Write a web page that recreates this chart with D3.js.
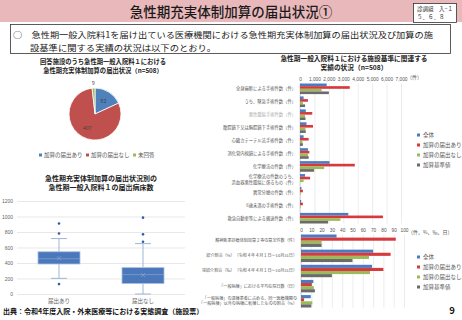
<!DOCTYPE html>
<html>
<head>
<meta charset="utf-8">
<script src="https://cdn.jsdelivr.net/npm/d3@7"></script>
<style>
	html, body { margin: 0; padding: 0; background: #fff; }
	svg { display: block; font-family: "Noto Sans CJK JP", "Noto Sans", sans-serif; }
</style>
</head>
<body>
<svg id="chart" width="462" height="320"></svg>
<script>
// --- data ---
const pieLabels = ["加算の届出あり", "加算の届出なし", "未回答"];
const pieValues = [92, 407, 9];

const boxCats = ["届出あり", "届出なし"];
const boxQ1 = [387, 135];
const boxMedian = [455, 250];
const boxQ3 = [545, 340];
const boxMean = [462, 245];
const boxLow = [202, 0];
const boxHigh = [715, 650];
const boxOutliers = [[910, 780, 128], [985, 770, 675]];
const boxTicks = [0, 200, 400, 600, 800, 1000, 1200];

const seriesNames = ["全体", "加算の届出あり", "加算の届出なし", "加算基準値"];

const topCats = [
	"全身麻酔による手術件数（件）",
	"うち、緊急手術件数（件）",
	"悪性腫瘍手術件数（件）",
	"腹腔鏡下又は胸腔鏡下手術件数（件）",
	"心臓カテーテル法手術件数（件）",
	"消化管内視鏡による手術件数（件）",
	"化学療法の件数（件）",
	"化学療法の件数のうち、|造血器悪性腫瘍に係るもの（件）",
	"異常分娩の件数（件）",
	"6歳未満の手術件数（件）",
	"救急自動車等による搬送件数（件）"
];
const topAll = [1850, 250, 400, 450, 250, 550, 2050, 350, 100, 80, 3350];
const topWith = [3450, 550, 850, 900, 600, 650, 3800, 700, 200, 200, 5750];
const topWithout = [1500, 200, 350, 380, 170, 550, 1680, 250, 50, 40, 2800];
const topStandard = [2000, 350, 380, 400, 200, 600, 980, 0, 0, 0, 1950];
const topTicks = [0, 1000, 2000, 3000, 4000, 5000, 6000, 7000];

const bottomCats = [
	"精神疾患診療体制加算２等の算定件数（件）",
	"紹介割合（%）　（令和４年４月１日～10月31日）",
	"逆紹介割合（‰）　（令和４年４月１日～10月31日）",
	"「一般病棟」における平均在院日数（日）",
	"「一般病棟」の退棟患者に占める、同一医療機関の|「一般病棟」以外の病棟に転棟したものの割合（%）"
];
const bottomAll = [34.5, 70, 69, 12, 9.5];
const bottomWith = [92, 87, 80, 10.5, 3];
const bottomWithout = [20, 66, 67, 12.5, 11];
const bottomStandard = [20, 50, 30, 13.5, 10];
const bottomTicks = [0, 10, 20, 30, 40, 50, 60, 70, 80, 90, 100];

const pieColors = ["#4f81bd", "#c0504d", "#9bbb59"];
const barColors = ["#4a7cc4", "#d63a3c", "#9bbb59", "#6b6b6b"];

const svg = d3.select("#chart");

// --- header ---
svg.append("rect").attr("x", 0).attr("y", 0).attr("width", 462).attr("height", 22).attr("fill", "#e9b8bb");
svg.append("text").attr("x", 231).attr("y", 17).attr("text-anchor", "middle")
	.attr("font-size", 13.5).attr("font-weight", 500).attr("fill", "#1a1a1a")
	.text("急性期充実体制加算の届出状況①");
svg.append("rect").attr("x", 413.5).attr("y", 3.5).attr("width", 43).attr("height", 19)
	.attr("fill", "#fff").attr("stroke", "#333").attr("stroke-width", 0.8);
svg.append("text").attr("x", 417).attr("y", 11).attr("font-size", 5.5).attr("fill", "#333").text("診調組　入−１");
svg.append("text").attr("x", 417).attr("y", 19).attr("font-size", 5.5).attr("fill", "#333").text("５．６．８");

svg.append("rect").attr("x", 10.5).attr("y", 24.5).attr("width", 440).attr("height", 29)
	.attr("fill", "#fff").attr("stroke", "#333").attr("stroke-width", 0.8);
svg.append("text").attr("x", 13).attr("y", 38.2).attr("font-size", 8.4).attr("fill", "#1a1a1a")
	.attr("textLength", 420).attr("lengthAdjust", "spacingAndGlyphs")
	.text("○　急性期一般入院料1を届け出ている医療機関における急性期充実体制加算の届出状況及び加算の施");
svg.append("text").attr("x", 30).attr("y", 50.8).attr("font-size", 8.4).attr("fill", "#1a1a1a")
	.attr("textLength", 186).attr("lengthAdjust", "spacingAndGlyphs")
	.text("設基準に関する実績の状況は以下のとおり。");

function titleLines(x, y, lines, size, gap) {
	lines.forEach((t, i) => {
		svg.append("text").attr("x", x).attr("y", y + i * gap).attr("text-anchor", "middle")
			.attr("font-size", size).attr("font-weight", 700).attr("fill", "#222").text(t);
	});
}

// --- pie ---
titleLines(103, 64, ["回答施設のうち急性期一般入院料１における", "急性期充実体制加算の届出状況（n=508）"], 6.3, 8.5);

const pie = d3.pie().sort(null).value((d) => d);
const arcs = pie(pieValues);
const radius = 26;
const arc = d3.arc().innerRadius(0).outerRadius(radius);
const pieG = svg.append("g").attr("transform", "translate(95,114)");
pieG.selectAll("path").data(arcs).enter().append("path")
	.attr("d", arc).attr("fill", (d, i) => pieColors[i]).attr("stroke", "#fff").attr("stroke-width", 0.8);
const labelArc = d3.arc().innerRadius(radius * 0.6).outerRadius(radius * 0.6);
const outerArc = d3.arc().innerRadius(radius + 5).outerRadius(radius + 5);
pieG.selectAll("text").data(arcs).enter().append("text")
	.attr("transform", (d, i) => `translate(${(i === 2 ? outerArc : labelArc).centroid(d)})`)
	.attr("text-anchor", "middle").attr("dy", "0.35em")
	.attr("font-size", 5.5).attr("fill", (d, i) => (i === 2 ? "#555" : "#444"))
	.text((d) => d.data);

const pieLegendX = [39, 86, 133];
pieLabels.forEach((name, i) => {
	svg.append("rect").attr("x", pieLegendX[i]).attr("y", 153.5).attr("width", 3).attr("height", 3).attr("fill", pieColors[i]);
	svg.append("text").attr("x", pieLegendX[i] + 5).attr("y", 157).attr("font-size", 5.5).attr("fill", "#555").text(name);
});

// --- box plot ---
titleLines(101, 181, ["急性期充実体制加算の届出状況別の", "急性期一般入院料１の届出病床数"], 7, 8.5);

const by = d3.scaleLinear().domain([0, 1200]).range([294, 201]);
const bx = d3.scaleBand().domain(boxCats).range([17, 185]);
const boxG = svg.append("g");
boxG.append("g").attr("transform", "translate(17,0)")
	.call(d3.axisLeft(by).tickValues(boxTicks).tickFormat(d3.format("d")).tickSize(-168).tickPadding(4))
	.call((g) => g.select(".domain").remove())
	.call((g) => g.selectAll("line").attr("stroke", "#d9d9d9").attr("stroke-width", 0.6))
	.call((g) => g.selectAll("text").attr("font-size", 5).attr("fill", "#666").attr("font-family", "inherit"));
const boxW = 42;
boxCats.forEach((c, i) => {
	const cx = bx(c) + bx.bandwidth() / 2;
	boxG.append("line").attr("x1", cx).attr("x2", cx).attr("y1", by(boxHigh[i])).attr("y2", by(boxQ3[i]))
		.attr("stroke", "#9fb6d8").attr("stroke-width", 1);
	boxG.append("line").attr("x1", cx).attr("x2", cx).attr("y1", by(boxQ1[i])).attr("y2", by(boxLow[i]))
		.attr("stroke", "#9fb6d8").attr("stroke-width", 1);
	[boxHigh[i], boxLow[i]].forEach((v) => {
		boxG.append("line").attr("x1", cx - 8).attr("x2", cx + 8).attr("y1", by(v)).attr("y2", by(v))
			.attr("stroke", "#9fb6d8").attr("stroke-width", 1);
	});
	boxG.append("rect").attr("x", cx - boxW / 2).attr("y", by(boxQ3[i])).attr("width", boxW)
		.attr("height", by(boxQ1[i]) - by(boxQ3[i]))
		.attr("fill", "#4a78bb").attr("stroke", "#a9bfe0").attr("stroke-width", 0.8);
	boxG.append("line").attr("x1", cx - boxW / 2).attr("x2", cx + boxW / 2)
		.attr("y1", by(boxMedian[i])).attr("y2", by(boxMedian[i]))
		.attr("stroke", "#86a3d0").attr("stroke-width", 0.7);
	const my = by(boxMean[i]);
	boxG.append("path").attr("d", `M${cx - 2},${my - 2}L${cx + 2},${my + 2}M${cx - 2},${my + 2}L${cx + 2},${my - 2}`)
		.attr("stroke", "#86a3d0").attr("stroke-width", 0.7);
	boxOutliers[i].forEach((v) => {
		boxG.append("circle").attr("cx", cx).attr("cy", by(v)).attr("r", 1.3).attr("fill", "#2f5ea8");
	});
	boxG.append("text").attr("x", cx).attr("y", 302.5).attr("text-anchor", "middle")
		.attr("font-size", 5.5).attr("fill", "#666").text(c);
});

svg.append("text").attr("x", 3).attr("y", 314).attr("font-size", 7).attr("font-weight", 700).attr("fill", "#111")
	.text("出典：令和4年度入院・外来医療等における実態調査（施設票）");

// --- grouped horizontal bars ---
function barChart(opts) {
	const x = d3.scaleLinear().domain(opts.domain).range(opts.xRange);
	const y = d3.scaleBand().domain(opts.cats).range(opts.yRange).paddingInner(0.18);
	const sub = d3.scaleBand().domain(d3.range(4)).range([0, y.bandwidth()]);
	const g = svg.append("g");
	g.append("g").attr("transform", `translate(0,${opts.yRange[0]})`)
		.call(d3.axisTop(x).tickValues(opts.ticks).tickSize(opts.yRange[0] - opts.yRange[1]).tickPadding(3))
		.call((a) => a.select(".domain").remove())
		.call((a) => a.selectAll("line").attr("stroke", "#d9d9d9").attr("stroke-width", 0.5))
		.call((a) => a.selectAll("text").attr("font-size", 4.8).attr("fill", "#555").attr("font-family", "inherit"));
	g.append("line").attr("x1", x(0)).attr("x2", x(0)).attr("y1", opts.yRange[0]).attr("y2", opts.yRange[1])
		.attr("stroke", "#bfbfbf").attr("stroke-width", 0.6);
	opts.series.forEach((vals, s) => {
		g.selectAll(null).data(vals).enter().append("rect")
			.attr("x", x(0)).attr("y", (d, i) => y(opts.cats[i]) + sub(s))
			.attr("width", (d) => x(d) - x(0)).attr("height", sub.bandwidth())
			.attr("fill", barColors[s]);
	});
	opts.cats.forEach((c, i) => {
		const parts = c.split("|");
		const cy = y(c) + y.bandwidth() / 2;
		parts.forEach((p, k) => {
			g.append("text").attr("x", x(0) - 4).attr("y", cy + (k - (parts.length - 1) / 2) * 5.5)
				.attr("dy", "0.35em").attr("text-anchor", "end").attr("font-size", opts.labelSize)
				.attr("fill", opts.dim === i ? "#aaa" : "#555").text(p);
		});
	});
	g.append("text").attr("x", opts.unitX).attr("y", opts.unitY).attr("font-size", 5)
		.attr("fill", "#555").text(opts.unit);
	seriesNames.forEach((n, s) => {
		const ly = opts.legendY + s * 10;
		g.append("rect").attr("x", 417).attr("y", ly - 1.5).attr("width", 3).attr("height", 3).attr("fill", barColors[s]);
		g.append("text").attr("x", 423).attr("y", ly).attr("dy", "0.35em").attr("font-size", 5.5)
			.attr("fill", "#555").text(n);
	});
}

titleLines(354, 61, ["急性期一般入院料１における施設基準に関連する", "実績の状況（n=508）"], 6.7, 8.5);

barChart({
	cats: topCats, series: [topAll, topWith, topWithout, topStandard],
	domain: [0, 7000], xRange: [300, 401], yRange: [83.5, 223.5], ticks: topTicks,
	labelSize: 4.3, dim: 2, unit: "（件）", unitX: 407, unitY: 78.5, legendY: 135
});

barChart({
	cats: bottomCats, series: [bottomAll, bottomWith, bottomWithout, bottomStandard],
	domain: [0, 100], xRange: [301, 404], yRange: [234.5, 307.5], ticks: bottomTicks,
	labelSize: 4.1, dim: -1, unit: "（件、%、‰、日）", unitX: 408, unitY: 234, legendY: 257
});

svg.append("text").attr("x", 452).attr("y", 314).attr("text-anchor", "middle")
	.attr("font-size", 9.5).attr("font-weight", 700).attr("fill", "#111").text("9");
</script>
</body>
</html>
